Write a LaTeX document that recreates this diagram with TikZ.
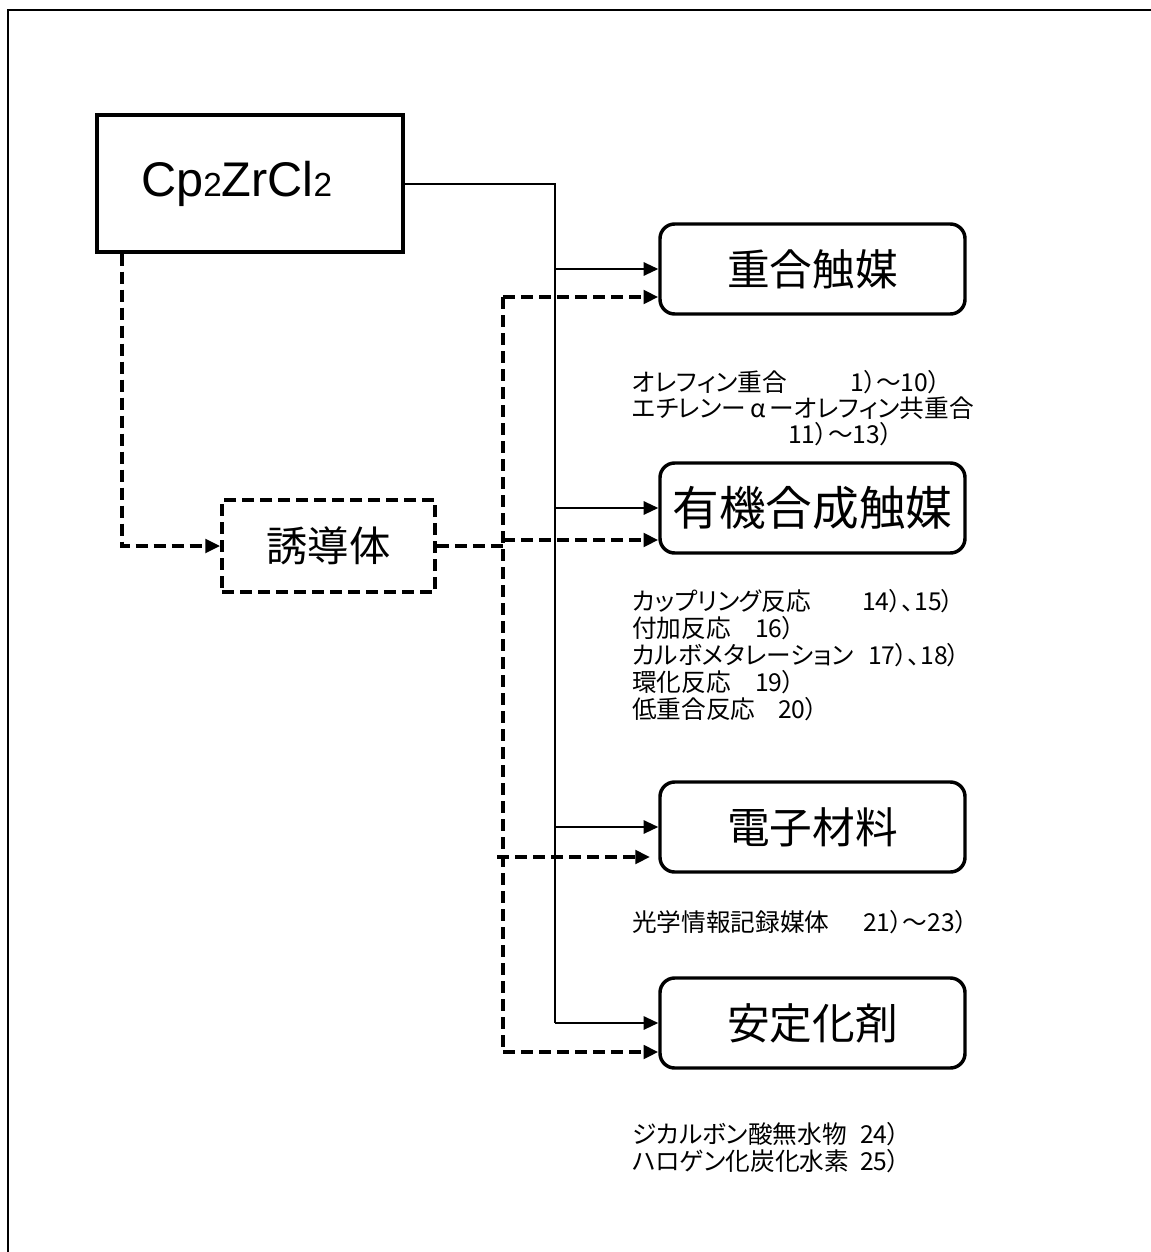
\documentclass[tikz,border=0pt]{standalone}
\usepackage{fontspec}
\setmainfont{Liberation Sans}
\newfontfamily\jp{Noto Sans CJK JP}
\newfontfamily\jpp[RawFeature={+palt}]{Noto Sans CJK JP}
\usetikzlibrary{arrows.meta}
\newcommand{\lab}[2]{\makebox[#1][l]{#2}}
\tikzset{
  framestyle/.style={line width=1.5pt},
  cpbox/.style={draw,line width=2.6pt,minimum width=229.5pt,minimum height=102.75pt,inner sep=0pt},
  usebox/.style={draw,line width=2.6pt,rounded corners=11pt,minimum width=228.75pt,minimum height=67.5pt,inner sep=0pt,font=\jp\fontsize{32pt}{36pt}\selectfont},
  derbox/.style={draw,line width=2.8pt,dash pattern=on 9pt off 4.5pt,minimum width=159.75pt,minimum height=69pt,inner sep=0pt,font=\jp\fontsize{31pt}{36pt}\selectfont},
  solidline/.style={line width=1.5pt},
  solidarrow/.style={line width=1.5pt,-{Triangle[length=11pt,width=10pt]}},
  dline/.style={line width=2.8pt,dash pattern=on 9pt off 4.5pt},
  darrow/.style={line width=2.8pt,dash pattern=on 9pt off 4.5pt,-{Triangle[length=11pt,width=10pt]}},
  small/.style={anchor=west,inner sep=0pt,font=\jpp\fontsize{18.5pt}{20pt}\selectfont}
}
\begin{document}
\begin{tikzpicture}[x=0.75pt,y=-0.75pt]
\useasboundingbox (0,0) rectangle (1151,1252);
% outer frame
\coordinate (fbl) at (8,1260);
\coordinate (ftl) at (8,10);
\coordinate (ftr) at (1160,10);
\draw[framestyle] (fbl) -- (ftl) -- (ftr);

% main nodes
\node[cpbox] (cp) at (250,183.5) {\fontsize{36.5pt}{40pt}\selectfont Cp{\fontsize{25pt}{25pt}\selectfont 2}ZrCl{\fontsize{25pt}{25pt}\selectfont 2}\hspace*{20pt}};
\node[derbox] (der) at (328.5,546) {誘導体};
\node[usebox] (jug) at (812.5,269) {重合触媒};
\node[usebox,font=\jp\fontsize{35pt}{38pt}\selectfont] (yuk) at (812.5,508) {有機合成触媒};
\node[usebox] (den) at (812.5,827) {電子材料};
\node[usebox] (anz) at (812.5,1023) {安定化剤};

% solid trunk
\coordinate (s0) at (555,183.5);
\coordinate (s1) at (555,269);
\coordinate (s2) at (555,508);
\coordinate (s3) at (555,827);
\coordinate (s4) at (555,1023);
\draw[solidline] (cp.east) -- (s0) -- (s4);
\draw[solidarrow] (s1) -- (jug.west);
\draw[solidarrow] (s2) -- (yuk.west);
\draw[solidarrow] (s3) -- (den.west);
\draw[solidarrow] (s4) -- (anz.west);

% dashed from Cp to derivative
\coordinate (c1) at (122,546);
\draw[darrow] (cp.south -| c1) -- (c1) -- (der.west);

% dashed trunk
\coordinate (d0) at (503,297);
\coordinate (dj) at (503,546);
\coordinate (d2) at (503,540);
\coordinate (d3) at (497,857);
\coordinate (d3e) at (650,857);
\coordinate (d4) at (503,1052);
\draw[dline] (der.east) -- (dj);
\draw[dline] (d0) -- (d4);
\draw[darrow] (d0) -- ([yshift=-21pt]jug.west);
\draw[darrow] (d2) -- ([yshift=-24pt]yuk.west);
\draw[darrow] (d3) -- (d3e);
\draw[darrow] (d4) -- ([yshift=-21.75pt]anz.west);

% texts
\node[small] (t1) at (632,382) {\lab{163.5pt}{オレフィン重合}1）～10）};
\node[small] (t2) at (632,408) {エチレンー\,α\,ーオレフィン共重合};
\node[small] (t3) at (788,434) {11）～13）};
\node[small] (t4) at (632,601) {\lab{172.5pt}{カップリング反応}14）、15）};
\node[small] (t5) at (632,628) {\lab{92.25pt}{付加反応}16）};
\node[small] (t6) at (632,655) {\lab{177pt}{カルボメタレーション}17）、18）};
\node[small] (t7) at (632,682) {\lab{92.25pt}{環化反応}19）};
\node[small] (t8) at (632,709) {\lab{109.5pt}{低重合反応}20）};
\node[small] (t9) at (632,922) {\lab{173.25pt}{光学情報記録媒体}21）～23）};
\node[small] (t10) at (632,1134) {\lab{171pt}{ジカルボン酸無水物}24）};
\node[small] (t11) at (632,1161) {\lab{171pt}{ハロゲン化炭化水素}25）};
\end{tikzpicture}
\end{document}
